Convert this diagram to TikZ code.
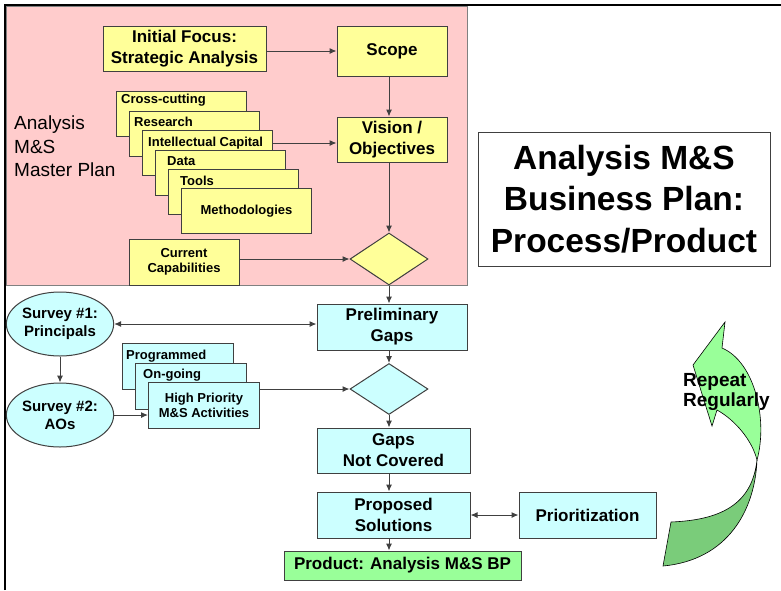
\documentclass[tikz,border=0pt]{standalone}
\usepackage{fontspec}
\setmainfont{Liberation Sans}
\usetikzlibrary{shapes.geometric,arrows.meta,calc}
\definecolor{pinkbg}{RGB}{255,204,204}
\definecolor{yel}{RGB}{255,255,153}
\definecolor{cyn}{RGB}{204,255,255}
\definecolor{grn}{RGB}{153,255,153}
\definecolor{dgrn}{RGB}{122,204,122}
\definecolor{edge}{RGB}{64,64,64}
\definecolor{pinkedge}{RGB}{128,128,128}
\begin{document}
\begin{tikzpicture}[x=1pt,y=-1pt,
  box/.style={draw=edge, line width=1pt, rectangle, inner sep=0pt, align=center,
    font=\bfseries\fontsize{17}{21}\selectfont},
  ybox/.style={box, fill=yel},
  cbox/.style={box, fill=cyn},
  stackbox/.style={box, anchor=north west, font=\bfseries\fontsize{13}{15}\selectfont},
  lbl/.style={anchor=base west, inner sep=0pt, font=\bfseries\fontsize{13}{15}\selectfont},
  dia/.style={diamond, draw=edge, line width=1pt, inner sep=0pt, minimum width=78pt, minimum height=52pt},
  ell/.style={ellipse, draw=edge, line width=1pt, fill=cyn, inner sep=0pt, align=center,
    minimum width=97pt, minimum height=64pt, font=\bfseries\fontsize{15}{18}\selectfont},
  arr/.style={-{Latex[length=7pt,width=6pt]}, draw=edge, line width=1pt},
  darr/.style={{Latex[length=7pt,width=6pt]}-{Latex[length=7pt,width=6pt]}, draw=edge, line width=1pt},
]
\useasboundingbox (0,0) rectangle (781,590);
\fill[white] (0,0) rectangle (781,590);

% pink master plan region
\draw[fill=pinkbg, draw=pinkedge, line width=1pt] (6,6) rectangle (467,285);

% outer frame
\draw[black, line width=2pt] (5,590) -- (5,5) -- (781,5);

% upper part
\node[ybox, minimum width=163pt, minimum height=45pt] (if) at (184.5,48.5) {Initial Focus:\\Strategic Analysis};
\node[ybox, minimum width=110pt, minimum height=50pt] (scope) at (392,51) {Scope};
\node[ybox, minimum width=110pt, minimum height=45pt] (vis) at (392,139.5) {Vision /\\Objectives};
\node[dia, fill=yel] (d1) at (389,259) {};
\node[ybox, minimum width=110pt, minimum height=46pt, font=\bfseries\fontsize{13}{15}\selectfont] (cc) at (184,262) {Current\\Capabilities};

\node[anchor=west, align=left, inner sep=0pt, font=\fontsize{19}{23.3}\selectfont] (mp) at (14,146.5) {Analysis\\M\&S\\Master Plan};

% yellow stack
\node[stackbox, fill=yel, minimum width=130pt, minimum height=45pt] (s1) at (116,91) {};
\node[lbl] (l1) at (121,103) {Cross-cutting};
\node[stackbox, fill=yel, minimum width=130pt, minimum height=45pt] (s2) at (129,110.5) {};
\node[lbl] (l2) at (134,126) {Research};
\node[stackbox, fill=yel, minimum width=130pt, minimum height=45pt] (s3) at (142,130) {};
\node[lbl] (l3) at (148,146) {Intellectual Capital};
\node[stackbox, fill=yel, minimum width=130pt, minimum height=45pt] (s4) at (155,149.5) {};
\node[lbl] (l4) at (167,165) {Data};
\node[stackbox, fill=yel, minimum width=130pt, minimum height=45pt] (s5) at (168,168.5) {};
\node[lbl] (l5) at (180,185) {Tools};
\node[stackbox, fill=yel, minimum width=130pt, minimum height=45pt] (s6) at (181,188) {Methodologies};

% upper connectors
\coordinate (icr) at ($(s3.north east)+(0,13)$);
\draw[arr] (if.east |- scope) -- (scope.west);
\draw[arr] (scope.south -| d1) -- (vis.north -| d1);
\draw[arr] (icr) -- (icr -| vis.west);
\draw[arr] (vis.south -| d1) -- (d1.north);
\draw[arr] (cc.east |- d1) -- (d1.west);

% lower part
\node[ell] (sv1) at (60,324) {Survey \#1:\\Principals};
\node[ell] (sv2) at (60,415) {Survey \#2:\\AOs};
\node[cbox, minimum width=150pt, minimum height=46pt] (pg) at (392,327) {Preliminary\\Gaps};
\node[dia, fill=cyn, minimum height=51pt] (d2) at (389,389) {};
\node[cbox, minimum width=153pt, minimum height=45pt] (gnc) at (393.5,450.5) {Gaps\\Not Covered};
\node[cbox, minimum width=153pt, minimum height=46pt] (ps) at (393.5,515) {Proposed\\Solutions};
\node[cbox, minimum width=137pt, minimum height=46pt] (prio) at (587.5,515) {Prioritization};
\node[box, fill=grn, minimum width=237pt, minimum height=29pt] (prod) at (402.5,565.5) {Product: Analysis M\&S BP};

% cyan stack
\node[stackbox, fill=cyn, minimum width=111pt, minimum height=46pt] (c1) at (122,343) {};
\node[lbl] (k1) at (126,359) {Programmed};
\node[stackbox, fill=cyn, minimum width=111pt, minimum height=46pt] (c2) at (135,362.5) {};
\node[lbl] (k2) at (143,378) {On-going};
\node[stackbox, fill=cyn, minimum width=111pt, minimum height=46pt] (hp) at (148,382) {High Priority\\M\&S Activities};

% lower connectors
\draw[darr] (sv1.east) -- (pg.west |- sv1);
\draw[arr] (sv1.south) -- (sv2.north);
\draw[arr] (sv2.east) -- (hp.west |- sv2);
\draw[arr] (hp.east |- d2) -- (d2.west);
\draw[arr] (d1.south) -- (pg.north -| d1);
\draw[arr] (pg.south -| d2) -- (d2.north);
\draw[arr] (d2.south) -- (gnc.north -| d2);
\draw[arr] (gnc.south -| d2) -- (ps.north -| d2);
\draw[arr] (ps.south -| d2) -- (prod.north -| d2);
\draw[darr] (ps.east) -- (prio.west);

% title
\node[draw=edge, line width=1pt, inner sep=0pt, minimum width=292pt, minimum height=134pt, align=center,
  font=\bfseries\fontsize{33.5}{41.5}\selectfont] (title) at (624,199) {Analysis M\&S\\Business Plan:\\Process/Product};

% curved green arrow
\draw[fill=dgrn, draw=black, line width=0.6pt]
  (757,460) .. controls (755,510) and (728,560) .. (663,566) -- (671,522)
  .. controls (720,520) and (752,505) .. (757,460) -- cycle;
\draw[fill=grn, draw=black, line width=0.6pt]
  (725,322) -- (693,365) -- (712,426) -- (717,410)
  .. controls (735,420) and (752,440) .. (757,460)
  .. controls (768,420) and (755,362) .. (722,348) -- cycle;
\node[anchor=west, align=left, inner sep=0pt, font=\bfseries\fontsize{19}{20.5}\selectfont] (rep) at (683,392) {Repeat\\Regularly};
\end{tikzpicture}
\end{document}
